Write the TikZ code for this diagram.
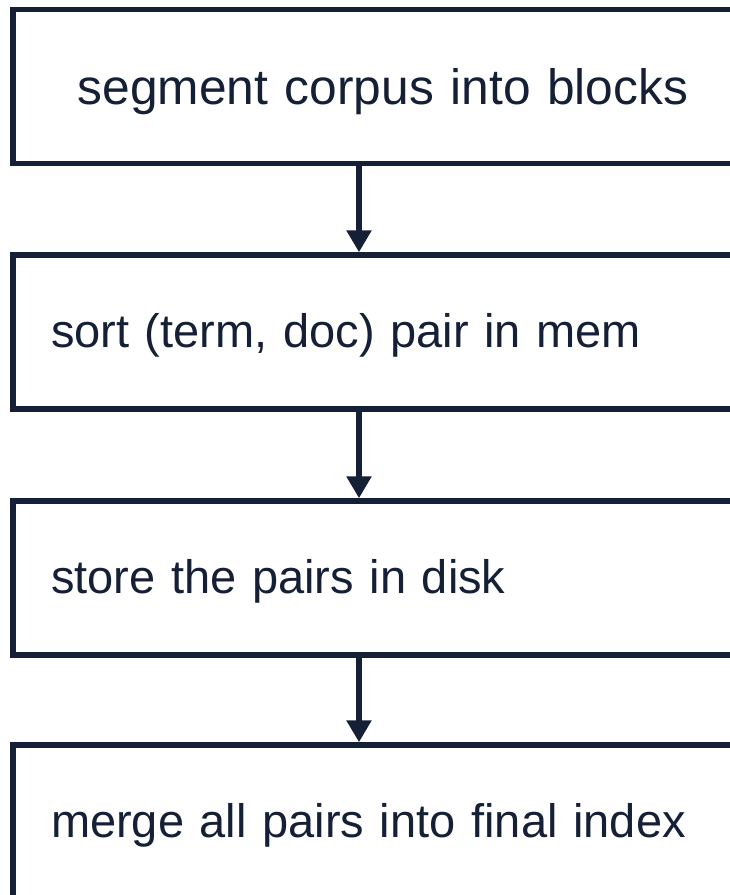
\documentclass[tikz,border=0pt]{standalone}
\usepackage{fontspec}
\setmainfont{Liberation Sans}
\usetikzlibrary{arrows.meta}
\definecolor{navy}{RGB}{21,32,54}
\begin{document}
\begin{tikzpicture}[x=1pt,y=1pt,
  stepbox/.style={draw=navy, line width=5.5pt, rectangle, anchor=west,
    minimum height=154pt, inner xsep=38pt, inner ysep=0pt,
    text height=38pt, text depth=8pt, text=navy,
    font=\fontsize{47}{57}\selectfont, align=left, text width=700pt},
  firstbox/.style={text width=664pt, align=center, text height=40pt, text depth=5pt,
    font=\fontsize{49.7}{60}\selectfont},
  arr/.style={draw=navy, line width=5.5pt, -{Triangle[width=24pt,length=22pt]}}]
\useasboundingbox (0,0) rectangle (730,-895);
\clip (0,0) rectangle (730,-895);
\fill[white] (0,0) rectangle (730,-895);
\node[stepbox, firstbox] (b1) at (10.25,-86.5) {segment corpus into blocks};
\node[stepbox] (b2) at (10.25,-332) {sort (term, doc) pair in mem};
\node[stepbox] (b3) at (10.25,-578) {store the pairs in disk};
\node[stepbox] (b4) at (10.25,-822) {merge all pairs into final index};
\coordinate (ax) at (359,0);
\draw[arr] (b1.south -| ax) -- (b2.north -| ax);
\draw[arr] (b2.south -| ax) -- (b3.north -| ax);
\draw[arr] (b3.south -| ax) -- (b4.north -| ax);
\end{tikzpicture}
\end{document}
